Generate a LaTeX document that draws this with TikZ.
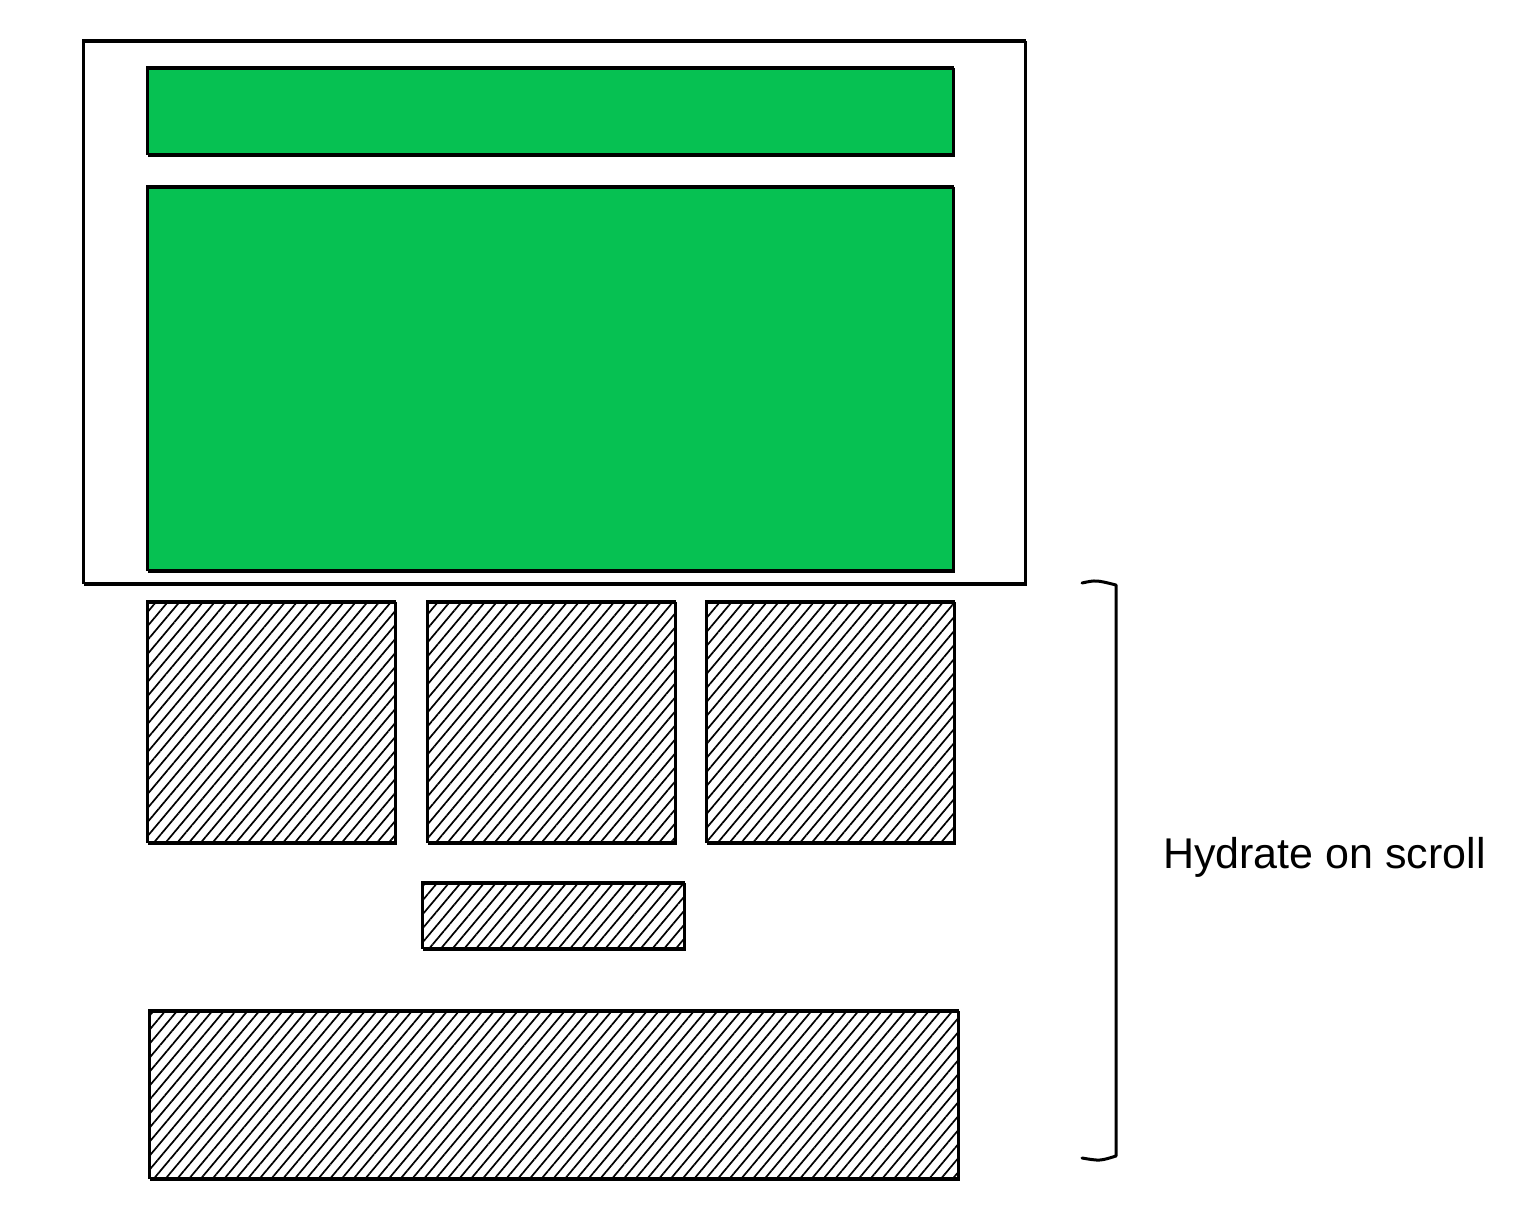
\documentclass[tikz,border=0pt]{standalone}
\usepackage{fontspec}
\setmainfont{Liberation Sans}
\usetikzlibrary{patterns.meta}
\definecolor{mintgreen}{RGB}{6,193,82}

\begin{document}
\begin{tikzpicture}[
        x=1pt, y=-1pt,
        every node/.style={inner sep=0pt, outer sep=0pt},
        box/.style={rectangle, draw=black, line width=2.6pt, anchor=north west,
            postaction={draw, line width=1.2pt, transform canvas={shift={(1.5pt,-2pt)}}}},
        filled/.style={box, fill=mintgreen},
        hatched/.style={box, pattern={Lines[angle=50,distance=9pt,line width=1.7pt]}}
    ]
    \useasboundingbox (0,0) rectangle (1536,1222);
    % page frame with the two hydrated blocks
    \node[box, minimum width=942pt, minimum height=543pt] (page) at (83,40) {};
    \node[filled, minimum width=806pt, minimum height=87pt] (header) at (147,67) {};
    \node[filled, minimum width=806pt, minimum height=384pt] (hero) at (147,186) {};
    % below the fold
    \foreach \x/\name in {147/cardA, 427/cardB, 706/cardC}
        \node[hatched, minimum width=248pt, minimum height=241pt] (\name) at (\x,601) {};
    \node[hatched, minimum width=262pt, minimum height=66pt] (more) at (422,882) {};
    \node[hatched, minimum width=809pt, minimum height=168pt] (footer) at (149,1010) {};
    % bracket
    \draw[line width=3pt, line cap=round, line join=round]
        (1082,583) .. controls (1096,580) .. (1116,585) -- (1116,1156)
        .. controls (1100,1161) .. (1082,1158);
    \node[font=\fontsize{43}{52}\selectfont, anchor=base west] (label) at (1163,868) {Hydrate on scroll};
\end{tikzpicture}
\end{document}
